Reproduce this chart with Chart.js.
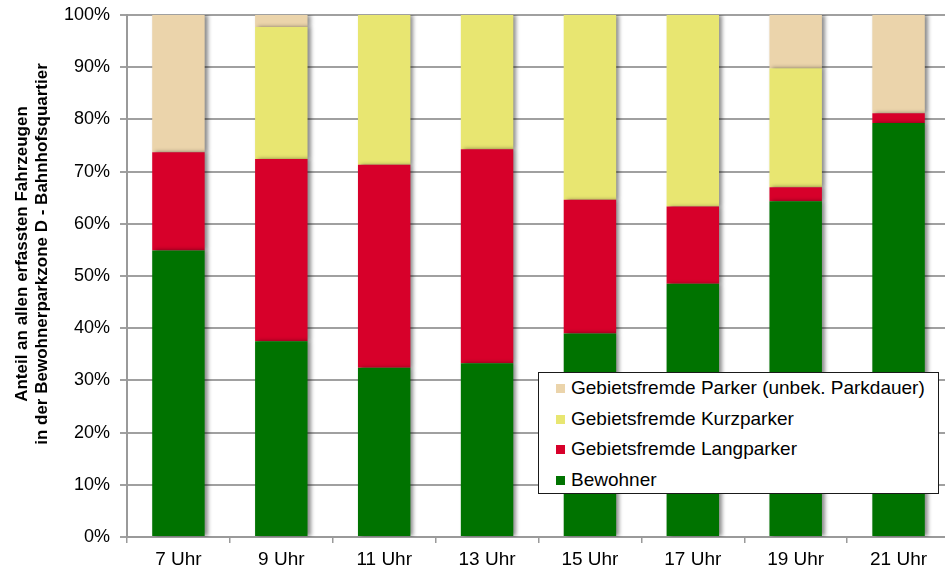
<!DOCTYPE html>
<html lang="de">
<head>
<meta charset="utf-8">
<script src="https://cdn.jsdelivr.net/npm/chart.js@4.4.1/dist/chart.umd.min.js"></script>
<style>
    html, body { margin: 0; padding: 0; background: #fff; overflow: hidden; }
    .wrap { position: relative; width: 950px; height: 572px; }
    .legend {
        position: absolute; left: 538px; top: 372px; width: 401px; height: 122px;
        border: 1px solid #1a1a1a; background: #fff;
        font-family: 'Liberation Sans', Arial, sans-serif; font-size: 19px; color: #000;
        padding-top: 0; box-sizing: border-box;
    }
    .legend div { height: 30.5px; line-height: 30.5px; white-space: nowrap; }
    .legend span { display: inline-block; width: 9px; height: 9px; margin: 0 6px 0 17px; vertical-align: 1px; }
</style>
</head>
<body>
<div class="wrap">
    <canvas id="parkChart" width="950" height="572"></canvas>
    <div class="legend" id="legend"></div>
</div>
<script>
const hours = ['7 Uhr', '9 Uhr', '11 Uhr', '13 Uhr', '15 Uhr', '17 Uhr', '19 Uhr', '21 Uhr'];

const bewohner   = [54.9, 37.5, 32.4, 33.3, 39.0, 48.5, 64.3, 79.3];
const langparker = [18.8, 34.9, 38.9, 41.0, 25.6, 14.8, 2.7, 1.9];
const kurzparker = [0, 25.3, 28.7, 25.7, 35.4, 36.7, 22.8, 0];
const unbekannt  = [26.3, 2.3, 0, 0, 0, 0, 10.2, 18.8];

const yTitle = ['Anteil an allen erfassten Fahrzeugen', 'in der Bewohnerparkzone D - Bahnhofsquartier'];

const series = [
    { label: 'Bewohner', data: bewohner, color: '#007300' },
    { label: 'Gebietsfremde Langparker', data: langparker, color: '#d7002a' },
    { label: 'Gebietsfremde Kurzparker', data: kurzparker, color: '#e8e671' },
    { label: 'Gebietsfremde Parker (unbek. Parkdauer)', data: unbekannt, color: '#ebd4ab' }
];

// soft grey shadow to the right of the columns
const barShadow = {
    id: 'barShadow',
    beforeDatasetsDraw(chart) {
        const c = chart.ctx;
        c.save();
        c.shadowColor = 'rgba(0, 0, 0, 0.45)';
        c.shadowBlur = 4;
        c.shadowOffsetX = 3;
        c.shadowOffsetY = 0;
    },
    afterDatasetsDraw(chart) {
        chart.ctx.restore();
    }
};

// two-line axis title, sits a bit above the middle of the axis like the original
const axisTitle = {
    id: 'axisTitle',
    afterDraw(chart) {
        const c = chart.ctx;
        c.save();
        c.fillStyle = '#000';
        c.font = "bold 17px 'Liberation Sans', Arial, sans-serif";
        c.textAlign = 'center';
        c.textBaseline = 'middle';
        c.translate(22, 254);
        c.rotate(-Math.PI / 2);
        yTitle.forEach((line, i) => c.fillText(line, 0, i * 20));
        c.restore();
    }
};

const ctx = document.getElementById('parkChart').getContext('2d');
const chart = new Chart(ctx, {
    type: 'bar',
    data: {
        labels: hours,
        datasets: series.map(s => ({
            label: s.label,
            data: s.data,
            backgroundColor: s.color,
            borderWidth: 0,
            barPercentage: 0.51,
            categoryPercentage: 1
        }))
    },
    options: {
        responsive: false,
        animation: false,
        layout: { padding: { top: 15, right: 0, bottom: 0, left: 0 } },
        plugins: {
            legend: { display: false },
            tooltip: { enabled: false }
        },
        scales: {
            x: {
                stacked: true,
                afterFit: (scale) => { scale.height = 35; },
                grid: { drawOnChartArea: false, drawTicks: true, tickLength: 6, color: '#9a9a9a', lineWidth: 1.5 },
                border: { display: true, color: '#9a9a9a', width: 2 },
                ticks: {
                    color: '#000',
                    padding: 5,
                    font: { family: "'Liberation Sans', Arial, sans-serif", size: 19 }
                }
            },
            y: {
                stacked: true,
                min: 0,
                max: 100,
                afterFit: (scale) => { scale.width = 127; scale.paddingTop = 0; },
                grid: { color: '#a0a0a0', lineWidth: 2, drawTicks: true, tickLength: 7 },
                border: { display: true, color: '#9a9a9a', width: 2 },
                ticks: {
                    stepSize: 10,
                    color: '#000',
                    padding: 10,
                    callback: (v) => v + '%',
                    font: { family: "'Liberation Sans', Arial, sans-serif", size: 18, lineHeight: 1 }
                }
            }
        }
    },
    plugins: [barShadow, axisTitle]
});

// legend in the lower right, top entry is the top stack segment
const legendEl = document.getElementById('legend');
series.slice().reverse().forEach(s => {
    const row = document.createElement('div');
    row.innerHTML = `<span style="background:${s.color}"></span>${s.label}`;
    legendEl.appendChild(row);
});
</script>
</body>
</html>
